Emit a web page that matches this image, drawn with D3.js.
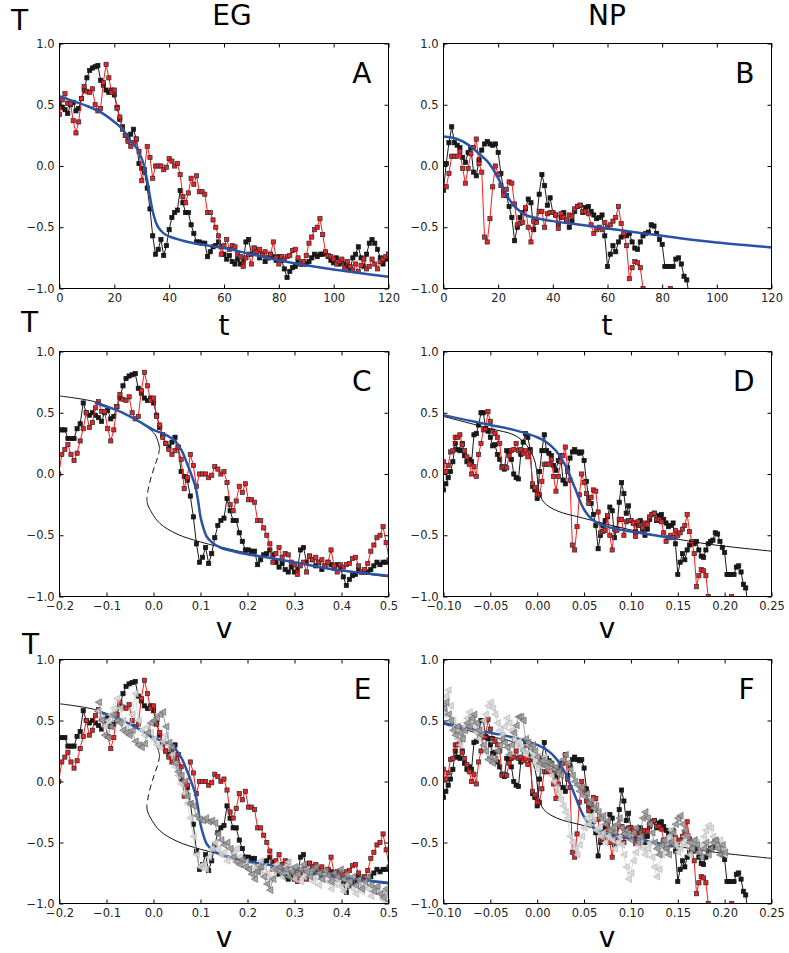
<!DOCTYPE html>
<html>
<head>
<meta charset="utf-8">
<script src="https://cdn.jsdelivr.net/npm/d3@7"></script>
<style>
  body { margin: 0; background: #fff; }
  svg { display: block; }
</style>
</head>
<body>
<svg id="fig" width="789" height="953"></svg>
<script>
// ---------------------------------------------------------------------------
// Measured order parameter T for the two systems (EG and NP).
// Each run is sampled once per time step; v is ramped linearly with time.
// ---------------------------------------------------------------------------

// EG runs, first sample at t = -11
const egStart = -11;
const egRunBlack = [
  0.36,0.36,0.36,0.29,0.29,0.29,0.37,0.41,0.58,0.5,0.48,
  0.5,0.48,0.46,0.43,0.5,0.52,0.45,0.47,0.55,0.62,
  0.72,0.78,0.8,0.81,0.82,0.7,0.66,0.62,0.6,0.62,
  0.58,0.48,0.38,0.32,0.25,0.22,0.26,0.3,0.22,0.02,
  -0.02,-0.05,-0.18,-0.35,-0.57,-0.72,-0.68,-0.6,-0.73,-0.65,
  -0.52,-0.42,-0.38,-0.36,-0.2,-0.3,-0.38,-0.38,-0.48,-0.55,
  -0.62,-0.62,-0.63,-0.63,-0.74,-0.7,-0.66,-0.65,-0.62,-0.66,
  -0.72,-0.76,-0.73,-0.78,-0.8,-0.76,-0.8,-0.78,-0.62,-0.6,
  -0.72,-0.67,-0.7,-0.75,-0.72,-0.78,-0.75,-0.72,-0.74,-0.77,
  -0.74,-0.77,-0.84,-0.91,-0.86,-0.83,-0.82,-0.78,-0.8,-0.8,
  -0.8,-0.78,-0.75,-0.72,-0.74,-0.72,-0.72,-0.71,-0.74,-0.77,
  -0.79,-0.75,-0.8,-0.78,-0.8,-0.82,-0.84,-0.75,-0.72,-0.66,
  -0.75,-0.82,-0.72,-0.63,-0.6,-0.63,-0.68,-0.75,-0.8,-0.76,
  -0.72
];
const egRunRed = [
  0.0,0.16,0.2,0.24,0.16,0.11,0.17,0.27,0.37,0.5,0.38,
  0.42,0.54,0.59,0.51,0.51,0.37,0.27,0.36,0.55,0.65,
  0.61,0.6,0.63,0.5,0.45,0.47,0.68,0.83,0.72,0.6,
  0.62,0.47,0.4,0.3,0.25,0.2,0.16,0.19,0.22,0.12,
  -0.12,-0.03,0.16,0.07,-0.1,0.0,0.0,0.0,-0.03,-0.01,
  0.06,0.04,0.0,0.02,-0.07,-0.25,-0.3,-0.22,-0.1,-0.15,
  -0.08,-0.21,-0.21,-0.23,-0.38,-0.38,-0.44,-0.5,-0.57,-0.72,
  -0.65,-0.6,-0.68,-0.65,-0.66,-0.72,-0.74,-0.82,-0.75,-0.72,
  -0.8,-0.67,-0.7,-0.68,-0.72,-0.7,-0.75,-0.72,-0.62,-0.75,
  -0.8,-0.74,-0.76,-0.74,-0.73,-0.69,-0.68,-0.75,-0.8,-0.78,
  -0.73,-0.63,-0.58,-0.52,-0.5,-0.43,-0.56,-0.7,-0.73,-0.74,
  -0.76,-0.8,-0.78,-0.76,-0.84,-0.78,-0.82,-0.85,-0.8,-0.86,
  -0.81,-0.76,-0.84,-0.82,-0.76,-0.8,-0.84,-0.78,-0.76,-0.74,
  -0.72
];
// additional EG runs (triangles), first sample at t = 2
const egTriStart = 2;
const egRunGrey = [
  0.65,0.5,0.38,0.36,0.45,0.55,0.5,0.48,
  0.42,0.4,0.38,0.42,0.33,0.3,0.28,0.31,0.4,0.48,
  0.5,0.52,0.55,0.57,0.45,0.32,0.28,0.15,0.08,0.05,
  0.0,-0.12,-0.18,-0.2,-0.28,-0.31,-0.32,-0.3,-0.33,-0.32,
  -0.34,-0.43,-0.48,-0.52,-0.5,-0.55,-0.62,-0.66,-0.68,-0.64,
  -0.7,-0.72,-0.76,-0.8,-0.74,-0.7,-0.78,-0.84,-0.89,-0.8,
  -0.72,-0.7,-0.75,-0.72,-0.78,-0.74,-0.7,-0.76,-0.72,-0.68,
  -0.74,-0.78,-0.72,-0.7,-0.75,-0.8,-0.73,-0.77,-0.82,-0.75,
  -0.78,-0.72,-0.8,-0.76,-0.82,-0.78,-0.85,-0.8,-0.88,-0.82,
  -0.78,-0.85,-0.9,-0.86,-0.92,-0.95,-0.88,-0.98
];
const egRunPale = [
  0.58,0.52,0.45,0.5,0.55,0.6,0.68,0.6,
  0.5,0.44,0.4,0.55,0.72,0.5,0.42,0.38,0.45,0.4,
  0.35,0.3,0.28,0.33,0.38,0.3,0.22,0.12,0.05,-0.02,
  -0.1,-0.18,-0.3,-0.45,-0.6,-0.7,-0.68,-0.72,-0.62,-0.55,
  -0.5,-0.55,-0.6,-0.58,-0.65,-0.62,-0.58,-0.55,-0.62,-0.68,
  -0.66,-0.72,-0.7,-0.75,-0.7,-0.65,-0.7,-0.75,-0.8,-0.72,
  -0.68,-0.74,-0.78,-0.7,-0.66,-0.72,-0.8,-0.76,-0.82,-0.78,
  -0.72,-0.76,-0.82,-0.78,-0.85,-0.8,-0.76,-0.82,-0.88,-0.84,
  -0.8,-0.86,-0.9,-0.85,-0.82,-0.88,-0.92,-0.86,-0.9,-0.85,
  -0.88,-0.94,-0.9,-0.86,-0.92,-0.97,-0.9,-0.95
];

// NP runs, first sample at t = -40
const npStart = -40;
const npRunBlack = [
  -0.13,-0.08,-0.03,0.02,0.1,0.25,0.2,0.19,0.25,0.15,
  0.1,0.12,0.1,0.32,0.33,0.4,0.5,0.5,0.37,0.35,
  0.3,0.23,0.24,0.16,0.12,0.06,0.04,0.19,0.18,0.12,
  0.0,-0.03,-0.04,0.16,0.26,0.33,0.3,0.2,-0.1,-0.13,
  -0.2,0.02,0.19,0.32,0.19,0.17,0.15,0.07,0.03,0.11,
  0.15,-0.05,-0.08,0.05,0.13,0.18,0.2,0.18,0.17,0.18,
  0.11,-0.06,-0.2,-0.24,-0.33,-0.42,-0.61,-0.5,-0.42,-0.38,
  -0.35,-0.27,-0.3,-0.52,-0.45,-0.23,-0.07,-0.16,-0.32,-0.26,
  -0.38,-0.4,-0.47,-0.42,-0.38,-0.45,-0.5,-0.45,-0.37,-0.33,
  -0.32,-0.38,-0.34,-0.33,-0.37,-0.4,-0.43,-0.42,-0.4,-0.57,
  -0.82,-0.72,-0.65,-0.7,-0.62,-0.58,-0.56,-0.57,-0.55,-0.62,
  -0.67,-0.68,-0.62,-0.57,-0.55,-0.54,-0.48,-0.49,-0.55,-0.6,
  -0.64,-0.82,-0.82,-0.82,-0.82,-0.76,-0.75,-0.8,-0.9,-0.93,
  -1.08
];
const npRunRed = [
  0.1,0.02,0.07,0.18,0.19,0.3,0.3,0.32,0.24,0.19,
  0.14,0.08,0.0,0.06,-0.02,0.16,0.25,0.36,0.37,0.51,
  0.43,0.35,0.33,0.3,0.25,0.05,0.06,0.05,0.15,0.19,
  0.2,0.25,0.19,0.2,0.17,0.19,0.14,0.18,-0.08,-0.11,
  -0.17,-0.17,-0.06,0.08,0.08,0.08,0.12,-0.02,-0.14,-0.02,
  0.1,0.15,0.22,0.02,-0.05,-0.58,-0.62,-0.43,-0.17,0.0,
  -0.07,-0.16,-0.24,-0.19,-0.13,-0.14,-0.31,-0.48,-0.47,-0.46,
  -0.34,-0.5,-0.62,-0.45,-0.46,-0.37,-0.37,-0.5,-0.39,-0.38,
  -0.38,-0.4,-0.51,-0.39,-0.42,-0.44,-0.4,-0.41,-0.35,-0.33,
  -0.32,-0.37,-0.37,-0.39,-0.48,-0.55,-0.52,-0.5,-0.52,-0.46,
  -0.5,-0.48,-0.45,-0.42,-0.33,-0.47,-0.55,-0.65,-0.92,-0.83,
  -0.78,-0.79,-0.83,-1.0,-1.1,-1.15,-1.12,-1.1,-1.15,-1.12,
  -1.1,-1.08,-1.05,-1.0,-1.1
];
// additional NP runs (triangles), first sample at t = -40
const npTriStart = -40;
const npRunGrey = [
  0.6,0.65,0.55,0.5,0.42,0.38,0.45,0.4,0.35,0.42,
  0.48,0.45,0.52,0.55,0.48,0.42,0.38,0.3,0.25,0.18,
  0.2,0.15,0.18,0.25,0.3,0.35,0.32,0.28,0.22,0.3,
  0.4,0.46,0.53,0.53,0.5,0.35,0.32,0.28,0.3,0.25,
  0.2,0.15,0.17,0.13,0.12,0.15,0.14,0.1,0.12,0.08,
  0.05,0.18,0.22,0.15,0.1,0.05,0.0,-0.03,-0.08,-0.05,
  -0.12,-0.1,-0.18,-0.15,-0.22,-0.2,-0.25,-0.3,-0.28,-0.35,
  -0.32,-0.4,-0.38,-0.42,-0.35,-0.3,-0.38,-0.43,-0.4,-0.45,
  -0.48,-0.42,-0.38,-0.5,-0.45,-0.3,-0.25,-0.3,-0.35,-0.42,
  -0.5,-0.55,-0.6,-0.52,-0.48,-0.55,-0.6,-0.5,-0.42,-0.35,
  -0.3,-0.28,-0.35,-0.4,-0.45,-0.5,-0.55,-0.48,-0.52,-0.58,
  -0.62,-0.55,-0.5,-0.6,-0.55,-0.5,-0.48,-0.55,-0.6,-0.52,
  -0.58
];
const npRunPale = [
  0.55,0.7,0.75,0.62,0.5,0.45,0.35,0.3,0.38,0.45,
  0.52,0.57,0.5,0.45,0.4,0.35,0.42,0.5,0.55,0.62,
  0.65,0.6,0.55,0.48,0.42,0.38,0.45,0.52,0.48,0.42,
  0.35,0.3,0.33,0.28,0.25,0.22,0.3,0.25,0.2,0.15,
  0.1,0.13,0.17,0.2,0.15,0.1,0.05,0.0,-0.05,-0.1,
  -0.15,-0.2,-0.25,-0.3,-0.45,-0.5,-0.55,-0.6,-0.52,-0.45,
  -0.38,-0.3,-0.35,-0.28,-0.32,-0.4,-0.38,-0.45,-0.42,-0.5,
  -0.45,-0.4,-0.48,-0.55,-0.5,-0.45,-0.52,-0.6,-0.7,-0.8,
  -0.75,-0.65,-0.58,-0.52,-0.48,-0.55,-0.6,-0.55,-0.5,-0.62,
  -0.7,-0.78,-0.72,-0.6,-0.55,-0.5,-0.45,-0.4,-0.48,-0.52,
  -0.58,-0.55,-0.5,-0.45,-0.52,-0.6,-0.55,-0.48,-0.5,-0.58,
  -0.52,-0.45,-0.4,-0.36,-0.38,-0.45,-0.5,-0.55,-0.48,-0.55,
  -0.6
];

// Ramp of v with time: v = v0 + rate * t
const egRampV0 = -0.130, egRampRate = 0.00651;
const npRampV0 = 0.0, npRampRate = 0.0025;

// Model fits against time (panels A, B)
const egFitTime = [0,5,10,15,20,23,26,28,30,31,32,33,34,35,36,38,40,45,50,60,70,80,90,100,110,120];
const egFitT    = [0.57,0.53,0.49,0.44,0.36,0.3,0.2,0.15,0.06,-0.01,-0.12,-0.25,-0.37,-0.45,-0.5,-0.55,-0.575,-0.61,-0.635,-0.67,-0.72,-0.77,-0.81,-0.845,-0.875,-0.905];
const npFitTime = [0,5,10,13,16,18,20,22,24,26,28,30,35,40,50,60,70,80,90,100,110,120];
const npFitT    = [0.24,0.22,0.16,0.1,0.04,-0.02,-0.1,-0.19,-0.27,-0.33,-0.37,-0.4,-0.43,-0.45,-0.48,-0.51,-0.54,-0.57,-0.6,-0.625,-0.645,-0.665];
// Model fits against v (panels C, E and D, F)
const egFitV  = [-0.125,-0.1,-0.071,-0.04,0.0,0.02,0.043,0.06,0.071,0.08,0.089,0.095,0.1,0.107,0.113,0.125,0.142,0.17,0.2,0.241,0.3,0.383,0.45,0.5];
const egFitVT = [0.58,0.55,0.51,0.45,0.36,0.33,0.28,0.19,0.09,0.0,-0.1,-0.22,-0.35,-0.45,-0.51,-0.56,-0.6,-0.63,-0.655,-0.68,-0.72,-0.78,-0.81,-0.83];
const npFitV  = [-0.1,-0.075,-0.05,-0.025,0.0,0.01,0.02,0.03,0.04,0.05,0.06,0.075,0.1,0.125,0.15];
const npFitVT = [0.48,0.44,0.4,0.36,0.3,0.26,0.19,0.07,-0.11,-0.29,-0.38,-0.43,-0.47,-0.5,-0.53];

// Equilibrium branches T(v)
const egUpperV = [-0.2,-0.125,-0.071,-0.035,-0.014,0.0035,0.01,0.013];
const egUpperT = [0.637,0.59,0.51,0.44,0.385,0.32,0.26,0.21];
const egMiddleV = [0.013,0.01,0.004,-0.003,-0.01,-0.014];
const egMiddleT = [0.21,0.15,0.08,0.0,-0.1,-0.19];
const egLowerV = [-0.014,-0.013,-0.003,0.014,0.05,0.1,0.17,0.24,0.31,0.383,0.5];
const egLowerT = [-0.19,-0.24,-0.32,-0.405,-0.49,-0.555,-0.62,-0.68,-0.73,-0.78,-0.84];
const npBranchV = [-0.1,-0.05,-0.025,-0.013,-0.006,-0.002,0.0,0.0015,0.007,0.021,0.049,0.085,0.12,0.156,0.19,0.25];
const npBranchT = [0.47,0.37,0.32,0.25,0.17,0.09,-0.02,-0.13,-0.23,-0.3,-0.36,-0.43,-0.49,-0.54,-0.58,-0.63];

// Ticks
const tTicks = [0,20,40,60,80,100,120];
const tTickLabels = ["0","20","40","60","80","100","120"];
const egVTicks = [-0.2,-0.1,0,0.1,0.2,0.3,0.4,0.5];
const egVTickLabels = ["\u22120.2","\u22120.1","0.0","0.1","0.2","0.3","0.4","0.5"];
const npVTicks = [-0.1,-0.05,0,0.05,0.1,0.15,0.2,0.25];
const npVTickLabels = ["\u22120.10","\u22120.05","0.00","0.05","0.10","0.15","0.20","0.25"];
const TTicks = [-1,-0.5,0,0.5,1];
const TTickLabels = ["\u22121.0","\u22120.5","0.0","0.5","1.0"];

// ---------------------------------------------------------------------------
const svg = d3.select('#fig');
const FONT = "'DejaVu Sans', 'Liberation Sans', sans-serif";
const COLS = [[59.5, 388.5], [443.5, 771.5]];
const ROWS = [[43.5, 288.5], [351.5, 596.5], [659.5, 903.5]];

const egTimeToV = t => egRampV0 + egRampRate * t;
const npTimeToV = t => npRampV0 + npRampRate * t;
const same = t => t;

const run = (vals, start, toX) => vals.map((T, i) => ({ x: toX(start + i), y: T }));
const pairs = (xs, ys) => xs.map((v, i) => ({ x: v, y: ys[i] }));

const STYLE = {
  black: { line: '#1a1a1a', fill: '#1a1a1a', edge: '#111', shape: 'sq' },
  red:   { line: '#ff1a1a', fill: '#e8232a', edge: '#2a2a2a', shape: 'sq' },
  grey:  { line: '#8a8a8a', fill: '#9a9a9a', edge: '#5c5c5c', shape: 'tri' },
  pale:  { line: '#cfcfcf', fill: '#d6d6d6', edge: '#b3b3b3', shape: 'tri' }
};
const triPath = 'M-3.4,0L3,-3.4L3,3.4Z';
const SQ = 4.2;

function drawRun(plot, pts, x, y, st) {
  const line = d3.line().x(d => x(d.x)).y(d => y(d.y));
  plot.append('path').attr('d', line(pts)).attr('fill', 'none')
    .attr('stroke', st.line).attr('stroke-width', st.shape === 'tri' ? 0.8 : 1);
  if (st.shape === 'sq') {
    plot.append('g').selectAll('rect').data(pts).join('rect')
      .attr('x', d => x(d.x) - SQ / 2).attr('y', d => y(d.y) - SQ / 2)
      .attr('width', SQ).attr('height', SQ)
      .attr('fill', st.fill).attr('stroke', st.edge).attr('stroke-width', 0.7);
  } else {
    plot.append('g').selectAll('path').data(pts).join('path')
      .attr('d', triPath)
      .attr('transform', d => `translate(${x(d.x)},${y(d.y)})`)
      .attr('fill', st.fill).attr('fill-opacity', 0.85)
      .attr('stroke', st.edge).attr('stroke-width', 0.6);
  }
}

function drawCurve(plot, pts, x, y, color, width, dash) {
  const line = d3.line().x(d => x(d.x)).y(d => y(d.y)).curve(d3.curveCatmullRom.alpha(0.5));
  const p = plot.append('path').attr('d', line(pts)).attr('fill', 'none')
    .attr('stroke', color).attr('stroke-width', width)
    .attr('stroke-linejoin', 'round').attr('stroke-linecap', 'butt');
  if (dash) p.attr('stroke-dasharray', dash);
}

function drawPanel(cfg) {
  const [x0, x1] = COLS[cfg.col], [y0, y1] = ROWS[cfg.row];
  const x = d3.scaleLinear().domain(cfg.xDomain).range([x0, x1]);
  const y = d3.scaleLinear().domain([-1, 1]).range([y1, y0]);
  const clipId = 'clip' + cfg.letter;
  svg.append('defs').append('clipPath').attr('id', clipId)
    .append('rect').attr('x', x0).attr('y', y0).attr('width', x1 - x0).attr('height', y1 - y0);
  const g = svg.append('g');
  const plot = g.append('g').attr('clip-path', `url(#${clipId})`);

  cfg.draw(plot, x, y);

  // frame
  g.append('rect').attr('x', x0).attr('y', y0).attr('width', x1 - x0).attr('height', y1 - y0)
    .attr('fill', 'none').attr('stroke', '#000').attr('stroke-width', 1);

  const lab = (ticks, labels) => d => labels[ticks.findIndex(v => Math.abs(v - d) < 1e-9)];
  const style = sel => {
    sel.select('.domain').remove();
    sel.selectAll('.tick line').attr('stroke', '#000').attr('stroke-width', 1);
    sel.selectAll('.tick text').attr('font-family', FONT).attr('font-size', 11.5).attr('fill', '#222');
  };
  g.append('g').attr('transform', `translate(0,${y1})`)
    .call(d3.axisBottom(x).tickValues(cfg.xTicks).tickFormat(lab(cfg.xTicks, cfg.xLabels))
      .tickSize(-4).tickSizeOuter(0).tickPadding(5.5)).call(style);
  g.append('g').attr('transform', `translate(0,${y0})`)
    .call(d3.axisTop(x).tickValues(cfg.xTicks).tickFormat('').tickSize(-4).tickSizeOuter(0)).call(style);
  g.append('g').attr('transform', `translate(${x0},0)`)
    .call(d3.axisLeft(y).tickValues(TTicks).tickFormat(lab(TTicks, TTickLabels))
      .tickSize(-4).tickSizeOuter(0).tickPadding(5)).call(style);
  g.append('g').attr('transform', `translate(${x1},0)`)
    .call(d3.axisRight(y).tickValues(TTicks).tickFormat('').tickSize(-4).tickSizeOuter(0)).call(style);

  g.append('text').attr('x', x1 - 17).attr('y', y0 + 39).attr('text-anchor', 'end')
    .attr('font-family', FONT).attr('font-size', 28).attr('fill', '#000').text(cfg.letter);
}

// shared layers
function egData(plot, x, y, toX) {
  drawRun(plot, run(egRunBlack, egStart, toX), x, y, STYLE.black);
  drawRun(plot, run(egRunRed, egStart, toX), x, y, STYLE.red);
}
function npData(plot, x, y, toX) {
  drawRun(plot, run(npRunBlack, npStart, toX), x, y, STYLE.black);
  drawRun(plot, run(npRunRed, npStart, toX), x, y, STYLE.red);
}
function egBranches(plot, x, y) {
  drawCurve(plot, pairs(egUpperV, egUpperT), x, y, '#111', 1);
  drawCurve(plot, pairs(egMiddleV, egMiddleT), x, y, '#111', 1, '6,4');
  drawCurve(plot, pairs(egLowerV, egLowerT), x, y, '#111', 1);
}
function npBranch(plot, x, y) {
  drawCurve(plot, pairs(npBranchV, npBranchT), x, y, '#111', 1);
}
const BLUE = '#2a53a6';

drawPanel({ letter: 'A', col: 0, row: 0, xDomain: [0, 120], xTicks: tTicks, xLabels: tTickLabels,
  draw: (p, x, y) => { egData(p, x, y, same); drawCurve(p, pairs(egFitTime, egFitT), x, y, BLUE, 2.5); } });
drawPanel({ letter: 'B', col: 1, row: 0, xDomain: [0, 120], xTicks: tTicks, xLabels: tTickLabels,
  draw: (p, x, y) => { npData(p, x, y, same); drawCurve(p, pairs(npFitTime, npFitT), x, y, BLUE, 2.5); } });
drawPanel({ letter: 'C', col: 0, row: 1, xDomain: [-0.2, 0.5], xTicks: egVTicks, xLabels: egVTickLabels,
  draw: (p, x, y) => { egData(p, x, y, egTimeToV); egBranches(p, x, y); drawCurve(p, pairs(egFitV, egFitVT), x, y, BLUE, 2.5); } });
drawPanel({ letter: 'D', col: 1, row: 1, xDomain: [-0.1, 0.25], xTicks: npVTicks, xLabels: npVTickLabels,
  draw: (p, x, y) => { npData(p, x, y, npTimeToV); npBranch(p, x, y); drawCurve(p, pairs(npFitV, npFitVT), x, y, BLUE, 2.5); } });
drawPanel({ letter: 'E', col: 0, row: 2, xDomain: [-0.2, 0.5], xTicks: egVTicks, xLabels: egVTickLabels,
  draw: (p, x, y) => {
    egData(p, x, y, egTimeToV); egBranches(p, x, y); drawCurve(p, pairs(egFitV, egFitVT), x, y, BLUE, 2.5);
    drawRun(p, run(egRunPale, egTriStart, egTimeToV), x, y, STYLE.pale);
    drawRun(p, run(egRunGrey, egTriStart, egTimeToV), x, y, STYLE.grey);
  } });
drawPanel({ letter: 'F', col: 1, row: 2, xDomain: [-0.1, 0.25], xTicks: npVTicks, xLabels: npVTickLabels,
  draw: (p, x, y) => {
    npData(p, x, y, npTimeToV); npBranch(p, x, y); drawCurve(p, pairs(npFitV, npFitVT), x, y, BLUE, 2.5);
    drawRun(p, run(npRunPale, npTriStart, npTimeToV), x, y, STYLE.pale);
    drawRun(p, run(npRunGrey, npTriStart, npTimeToV), x, y, STYLE.grey);
  } });

// column titles and axis labels
const big = (txt, xPos, yPos, anchor) => svg.append('text').attr('x', xPos).attr('y', yPos)
  .attr('text-anchor', anchor || 'middle').attr('font-family', FONT).attr('font-size', 28)
  .attr('fill', '#000').text(txt);
big('EG', 232, 25);
big('NP', 607, 25);
big('T', 11, 30, 'start');
big('T', 21, 332, 'start');
big('T', 22, 654, 'start');
big('t', 224, 335);
big('t', 607, 335);
big('v', 224, 638);
big('v', 607, 638);
big('v', 224, 947);
big('v', 607, 947);
</script>
</body>
</html>
